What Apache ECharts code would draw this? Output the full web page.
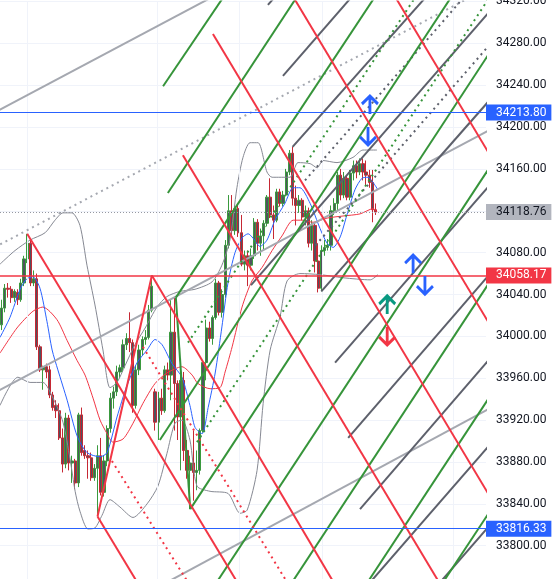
<!DOCTYPE html>
<html><head><meta charset="utf-8">
<script src="https://cdn.jsdelivr.net/npm/echarts@6/dist/echarts.min.js"></script>
<style>html,body{margin:0;padding:0;background:#fff}#c{width:553px;height:579px}</style>
</head><body><div id="c"></div>
<script>
// ---------- data ----------
const SLOT_COUNT = 152; // candle slots incl. empty future area
const yMin = 33760, yMax = 34320, yStep = 40;

// candles: [open, close, low, high]
const candles = [
[34011,34027,34006,34035],[34027,34046,34023,34050],[34046,34045,34037,34051],[34045,34037,34032,34048],
[34037,34043,34033,34045],[34042,34035,34030,34045],[34035,34051,34033,34055],[34051,34074,34048,34077],
[34074,34089,34070,34098],[34089,34051,34048,34092],[34051,34055,34048,34063],[34055,33990,33987,34060],
[33990,33968,33966,33992],[33968,33971,33949,33972],[33971,33966,33960,33974],[33968,33944,33941,33972],
[33944,33932,33929,33947],[33934,33929,33922,33939],[33929,33903,33901,33936],[33903,33878,33870,33912],
[33878,33922,33874,33927],[33922,33879,33872,33925],[33879,33881,33860,33886],[33881,33860,33854,33883],
[33860,33925,33856,33927],[33925,33889,33886,33932],[33891,33886,33883,33896],[33886,33884,33864,33891],
[33884,33865,33862,33889],[33865,33874,33862,33878],[33874,33886,33828,33896],[33886,33851,33848,33903],
[33851,33881,33847,33886],[33881,33912,33876,33915],[33912,33941,33908,33946],[33941,33947,33931,33952],
[33947,33966,33943,33972],[33966,33970,33960,33973],[33970,33992,33966,33997],[33992,33998,33987,34003],
[33998,33994,33985,34023],[33994,33934,33927,33997],[33934,33968,33931,33972],[33968,33987,33963,33992],
[33987,33997,33982,34000],[33997,33999,33992,34006],[33999,34025,33997,34030],[34025,34048,34023,34058.17],
[33947,33918,33910,33950],[33918,33941,33901,33947],[33941,33929,33925,33950],[33929,33968,33927,33972],
[33968,33963,33958,33975],[33963,34004,33939,34035],[34004,33955,33910,34037],[33955,33923,33901,33958],
[33923,33958,33872,33968],[33958,33891,33881,33966],[33891,33872,33864,33901],[33872,33879,33835,33886],
[33879,33870,33843,33910],[33870,33872,33853,33891],[33872,33910,33868,33912],[33910,33975,33908,33977],
[33975,34008,33958,34016],[34008,33998,33995,34014],[33998,34018,33992,34020],[34018,34051,34016,34055],
[34051,34023,34020,34053],[34023,34040,34018,34045],[34040,34087,34037,34092],[34087,34120,34084,34135],
[34120,34101,34096,34135],[34101,34122,34097,34125],[34122,34099,34095,34127],[34099,34069,34067,34116],
[34069,34077,34063,34082],[34077,34068,34048,34082],[34068,34077,34063,34084],[34077,34109,34074,34113],
[34109,34089,34082,34112],[34089,34096,34077,34103],[34096,34108,34082,34111],[34108,34133,34105,34135],
[34133,34116,34113,34151],[34116,34111,34093,34125],[34111,34138,34109,34141],[34138,34127,34124,34141],
[34127,34135,34124,34139],[34135,34157,34134,34160],[34157,34175,34154,34178],[34175,34132,34125,34181],
[34132,34125,34106,34144],[34125,34130,34118,34135],[34130,34114,34111,34132],[34114,34120,34106,34125],
[34120,34089,34085,34123],[34089,34106,34082,34111],[34106,34072,34061,34109],[34072,34046,34042,34089],
[34046,34082,34043,34087],[34082,34085,34077,34092],[34085,34087,34082,34093],[34087,34120,34082,34125],
[34120,34127,34116,34132],[34127,34154,34120,34157],[34154,34135,34130,34160],[34135,34151,34132,34157],
[34151,34133,34130,34154],[34133,34156,34130,34159],[34156,34163,34149,34168],[34163,34157,34151,34168],
[34157,34165,34154,34170],[34165,34157,34149,34170],[34157,34154,34144,34168],[34154,34147,34142,34159],
[34147,34121,34109,34159],[34121,34118.76,34116,34127]
];

// indicators: [candle index, price]
const fastMA = [[-0.5,33999],[2.6,34018],[5.8,34045],[7.9,34055],[9.8,34057],[12,34046],[14.2,34014],[15.8,33987],
[17.6,33968],[20.5,33939],[23.6,33905],[26.7,33889],[30.8,33885],[33,33889],[36.1,33923],[39.2,33953],[42.4,33975],
[45.5,33987],[48,33997],[50.2,33992],[53.3,33974],[56.4,33961],[58.9,33934],[60.5,33913],[62.7,33907],[64.6,33932],
[66.8,33965],[68.9,34009],[70.8,34051],[73,34080],[75.2,34094],[77.1,34098],[78.6,34094],[80.8,34086],[83,34092],
[85.5,34111],[88.6,34127],[91.2,34142],[93.3,34142],[96.5,34127],[99.6,34103],[101.8,34089],[103.7,34085],
[105.9,34095],[108,34116],[110.5,34140],[112.7,34151],[114.6,34152],[116.2,34147],[117.7,34140]];
const slowMA = [[-0.5,33984],[4.8,34008],[9.8,34024],[12.9,34028],[17.3,34016],[20.5,33996],[23.6,33977],[26.1,33963],
[28.6,33941],[30.8,33920],[33,33907],[34.8,33899],[38,33902],[41.1,33917],[44.2,33936],[48,33955],[51.7,33965],
[56.4,33971],[59.6,33963],[61.4,33955],[65.2,33950],[68.3,33951],[69.9,33966],[72.1,33990],[75.2,34028],[78.3,34053],
[81.5,34066],[84.6,34082],[87.7,34096],[91.2,34111],[94.3,34111],[97.4,34109],[101.8,34113],[106.8,34115],
[112.1,34117],[116.2,34122],[117.4,34119]];
const bandUpper = [[-0.5,34069],[4.2,34082],[8.9,34092],[13.6,34099],[16.7,34111],[19.2,34118],[22,34118],[24.5,34106],
[26.7,34068],[29.2,34030],[31.7,33987],[33.9,33951],[36.1,33956],[38.6,33972],[41.7,33992],[44.9,34008],[48.6,34028],
[51.7,34038],[55.8,34043],[60.5,34045],[65.8,34052],[68.9,34068],[71.4,34092],[73.6,34142],[75.5,34171],[77.7,34185],
[80.2,34185],[83,34157],[84.6,34152],[90.2,34152],[92.7,34166],[96.5,34165],[98.7,34161],[100.5,34168],[104.9,34166],
[109.9,34171],[113,34178],[117.4,34178]];
const bandLower = [[-0.5,33934],[5.1,33961],[8.9,33956],[12.9,33956],[16.1,33941],[19.2,33918],[21.4,33883],[23,33852],
[24.5,33833],[27,33816],[29.2,33817],[31.4,33829],[33.9,33844],[37,33837],[41.1,33827],[45.5,33840],[48.9,33857],
[51.7,33888],[54.2,33917],[56.4,33920],[58.9,33901],[61.1,33857],[65.2,33852],[70.8,33850],[74.6,33831],[76.8,33834],
[79.9,33872],[81.8,33936],[84,33987],[87.1,34019],[89.3,34053],[93.3,34060],[99.6,34059],[106.8,34056],[115.3,34054],
[117.7,34059]];

// drawing segments: [[index, price], [index, price]]
const redRays = [
[[8,34098],[74.6,33760.6]],[[30,33828],[43.3,33760.6]],[[47,34058.17],[104.7,33760.6]],
[[56.7,34173],[137.7,33760.6]],[[66.1,34288.9],[155.9,33830.8]],[[89.9,34331],[155.9,33994.9]],
[[121.8,34331],[155.9,34157.1]],[[30,33828],[47,34058.17]]];
const redDotted = [[[34.5,33881],[59.2,33760.6]],[[44.2,33990],[90.2,33760.6]]];
const greenRays = [
[[50.5,34239],[70.9,34331]],[[52,34137],[93.8,34331]],[[54.5,34037],[118.2,34331]],[[49.5,33901],[142.1,34331]],
[[59,33835],[155.9,34286.2]],[[66.3,33760.6],[155.9,34176.6]],[[89.9,33760.6],[155.9,34067]],
[[113.5,33760.6],[155.9,33957.3]],[[137.1,33760.6],[155.9,33847.6]],[[54.5,34037],[59,33835]]];
const greenDotted = [[[58.3,33994],[130.9,34331]],[[61.1,33899],[155.9,34339.2]]];
const darkRays = [
[[83.3,34316.6],[87.4,34331]],[[88,34248.8],[111.4,34331]],[[91,34181],[134.7,34331]],[[78,34049],[159,34332.6]],
[[100,34043],[155.9,34237]],[[104.3,33975],[155.9,34155.8]],[[108.4,33903],[155.9,34070.9]],
[[112.1,33835],[155.9,33989.9]],[[114,33760.6],[155.9,33907.7]],[[135.9,33760.6],[155.9,33830.8]]];
const darkDotted = [[[94.9,34149],[146.6,34331]],[[98.2,34087],[155.9,34290.1]]];
const greyRays = [[[-2.1,34214.1],[68.3,34328.1]],[[-2.1,33946.2],[155.9,34202.4]],[[49,33760.6],[155.9,33936.6]]];
const greyDotted = [[[-2.1,34085.2],[155.9,34339]]];

const sessionBreaks = [7.9, 48.6, 74.3, 100.2, 141.2];
const priceLevels = [34213.80, 34118.76, 34058.17, 33816.33];
const arrowsUpBlue = [[115.2,34221],[128.7,34069]];
const arrowsDownBlue = [[114.6,34191.5],[132.4,34049]];
const arrowsUpTeal = [[120.6,34030]];
const arrowsDownRed = [[120.6,34000.4]];

// ---------- chart ----------
const FONT = 'Roboto';
const slots = Array.from({length: SLOT_COUNT}, (_, i) => String(i));
const levelStyle = [
  {line:'#2962ff', type:'solid', bg:'#2962ff', fg:'#ffffff', w:1},
  {line:'#9598a1', type:[1,2], bg:'#b2b5be', fg:'#131722', w:1},
  {line:'#f23645', type:'solid', bg:'#f23645', fg:'#ffffff', w:1.5},
  {line:'#2962ff', type:'solid', bg:'#2962ff', fg:'#ffffff', w:1}
];
function fam(data, color, dotted){
  return {type:'lines', coordinateSystem:'cartesian2d', xAxisIndex:1, yAxisIndex:0, silent:true, clip:true, z:5,
    data: data.map(c => ({coords: c})),
    lineStyle:{color, width:2, opacity:1, type: dotted ? [2,4] : 'solid'}};
}
function curve(data, color){
  return {type:'line', xAxisIndex:1, yAxisIndex:0, data, symbol:'none', smooth:0.25, silent:true, z:4,
    lineStyle:{color, width:1}};
}
function levelLine(v, st){
  return {type:'lines', coordinateSystem:'cartesian2d', xAxisIndex:1, yAxisIndex:0, silent:true, clip:true, z:10,
    data:[{coords:[[-0.5, v],[SLOT_COUNT-0.5, v]]}],
    lineStyle:{color:st.line, width:st.w, opacity:1, type:st.type}};
}
function levelLabel(v, st){
  return {type:'line', xAxisIndex:1, yAxisIndex:0, data:[[0, v]], symbol:'none', silent:true, z:9,
    lineStyle:{opacity:0},
    markLine:{silent:true, symbol:'none', animation:false,
      lineStyle:{color:'rgba(255,255,255,0)', width:1, type:'solid'},
      label:{show:true, position:'end', distance:0, formatter:v.toFixed(2), fontFamily:FONT, fontSize:12,
        color:st.fg, backgroundColor:st.bg, padding:[2,5,1,10], lineHeight:13},
      data:[{yAxis:v}]}};
}
const UP = 'path://M1,9 L9,1 L17,9 M9,1 L9,19';
const DOWN = 'path://M1,11 L9,19 L17,11 M9,19 L9,1';
function arrows(data, sym, color){
  return {type:'scatter', xAxisIndex:1, yAxisIndex:0, data, symbol:sym, symbolSize:[16,18], silent:true, z:11,
    itemStyle:{color:'rgba(0,0,0,0)', borderColor:color, borderWidth:3, opacity:1}};
}

const series = [
  {type:'line', xAxisIndex:1, data:[[0, 34000]], symbol:'none', silent:true, z:1, lineStyle:{opacity:0},
   markLine:{silent:true, symbol:'none', animation:false, label:{show:false},
     lineStyle:{color:'#f0f3fa', width:1, type:'solid'},
     data: sessionBreaks.map(v => ({xAxis:v}))}},
  {type:'candlestick', xAxisIndex:0, yAxisIndex:0, data:candles, barWidth:'85%', silent:true, z:2,
   itemStyle:{color:'#50535e', color0:'#50535e', borderColor:'#3a9a3e', borderColor0:'#c62834', borderWidth:1}},
  curve(bandUpper, '#868993'),
  curve(bandLower, '#868993'),
  curve(slowMA, '#f23645'),
  curve(fastMA, '#2962ff'),
  fam(greyRays, '#a5a8b0', false),
  fam(greyDotted, '#a5a8b0', true),
  fam(darkRays, '#5d606b', false),
  fam(darkDotted, '#5d606b', true),
  fam(greenRays, '#36943a', false),
  fam(greenDotted, '#36943a', true),
  fam(redRays, '#f23645', false),
  fam(redDotted, '#f23645', true)
];
priceLevels.forEach((v, i) => { series.push(levelLabel(v, levelStyle[i])); series.push(levelLine(v, levelStyle[i])); });
series.push(arrows(arrowsUpBlue, UP, '#2962ff'));
series.push(arrows(arrowsDownBlue, DOWN, '#2962ff'));
series.push(arrows(arrowsUpTeal, UP, '#089981'));
series.push(arrows(arrowsDownRed, DOWN, '#f23645'));

const chart = echarts.init(document.getElementById('c'));
chart.setOption({
  animation:false,
  backgroundColor:'#ffffff',
  grid:{left:0, right:67, top:1.4, bottom:-8.6, outerBoundsMode:'none', containLabel:false},
  xAxis:[
    {type:'category', data:slots, boundaryGap:true, show:false},
    {type:'value', min:-0.5, max:SLOT_COUNT-0.5, show:false}
  ],
  yAxis:{type:'value', position:'right', min:yMin, max:yMax, interval:yStep, scale:true,
    axisLine:{show:false}, axisTick:{show:false},
    axisLabel:{color:'#131722', fontSize:12, fontFamily:FONT, margin:10, formatter:v => v.toFixed(2)},
    splitLine:{lineStyle:{color:'#f0f3fa', width:1}}},
  series
});
</script></body></html>
